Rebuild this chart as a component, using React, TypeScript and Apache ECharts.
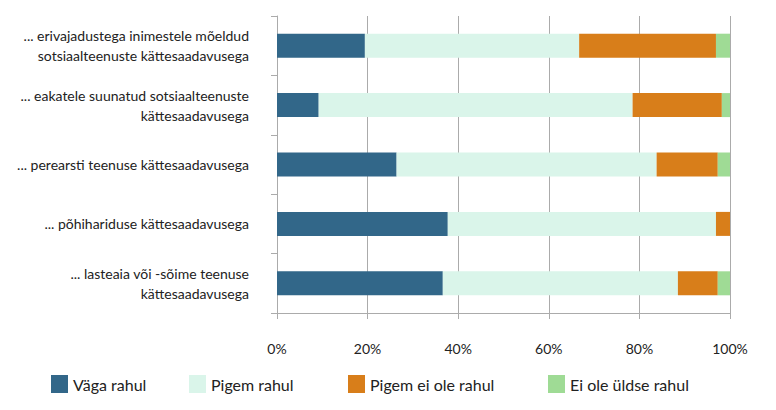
import React, { useEffect, useRef } from "react";
import * as echarts from "echarts";

const categories = [
  "... erivajadustega inimestele mõeldud\nsotsiaalteenuste kättesaadavusega",
  "... eakatele suunatud sotsiaalteenuste\nkättesaadavusega",
  "... perearsti teenuse kättesaadavusega",
  "... põhihariduse kättesaadavusega",
  "... lasteaia või -sõime teenuse\nkättesaadavusega",
];
const seriesNames = ["Väga rahul", "Pigem rahul", "Pigem ei ole rahul", "Ei ole üldse rahul"];
const vagaRahul = [19.4, 9.2, 26.4, 37.7, 36.6];
const pigemRahul = [47.3, 69.3, 57.4, 59.2, 51.9];
const pigemEiOle = [30.2, 19.7, 13.5, 3.1, 8.8];
const eiOleUldse = [3.1, 1.8, 2.7, 0, 2.7];
const xTicks = [0, 20, 40, 60, 80, 100];

const colors = ["#326789", "#daf5ea", "#d87e1a", "#9fdb95"];
const FONT = "Lato, 'Noto Sans', sans-serif";
const TEXT = "#222222";
const LINE = "#ababab";

export default function App() {
  const ref = useRef<HTMLDivElement>(null);
  useEffect(() => {
    if (!ref.current) return;
    const chart = echarts.init(ref.current, undefined, { renderer: "svg" });
    const values = [vagaRahul, pigemRahul, pigemEiOle, eiOleUldse];
    const legendLeft = [51, 189, 348, 548];
    chart.setOption({
      animation: false,
      textStyle: { fontFamily: FONT },
      grid: { left: 277, right: 46, top: 16, bottom: 97, containLabel: false },
      legend: seriesNames.map((n, i) => ({
        data: [n],
        left: legendLeft[i],
        top: 375,
        icon: "rect",
        itemWidth: 17,
        itemHeight: 18,
        itemGap: 11,
        padding: 0,
        selectedMode: false,
        textStyle: { fontFamily: FONT, fontSize: 16, color: TEXT, padding: [0, 0, 0, 0] },
      })),
      xAxis: {
        type: "value",
        min: xTicks[0],
        max: xTicks[xTicks.length - 1],
        interval: 20,
        axisLabel: {
          formatter: "{value}%",
          fontFamily: FONT,
          fontSize: 14,
          color: TEXT,
          margin: 28,
        },
        axisLine: { show: true, lineStyle: { color: LINE, width: 1 } },
        axisTick: { show: true, length: 6, lineStyle: { color: LINE } },
        splitLine: { show: true, lineStyle: { color: LINE, width: 1 } },
      },
      yAxis: {
        type: "category",
        inverse: true,
        data: categories,
        axisLabel: {
          fontFamily: FONT,
          fontSize: 14,
          color: TEXT,
          margin: 28,
          lineHeight: 20,
          align: "right",
        },
        axisLine: { show: true, lineStyle: { color: LINE, width: 1 } },
        axisTick: { show: true, length: 6, lineStyle: { color: LINE } },
      },
      series: seriesNames.map((n, i) => ({
        name: n,
        type: "bar",
        stack: "total",
        barWidth: 24,
        data: values[i],
        itemStyle: { color: colors[i] },
      })),
    });
    return () => chart.dispose();
  }, []);
  return (
    <div
      ref={ref}
      style={{ position: "fixed", left: 0, top: 0, width: 776, height: 410, background: "#ffffff" }}
    />
  );
}
